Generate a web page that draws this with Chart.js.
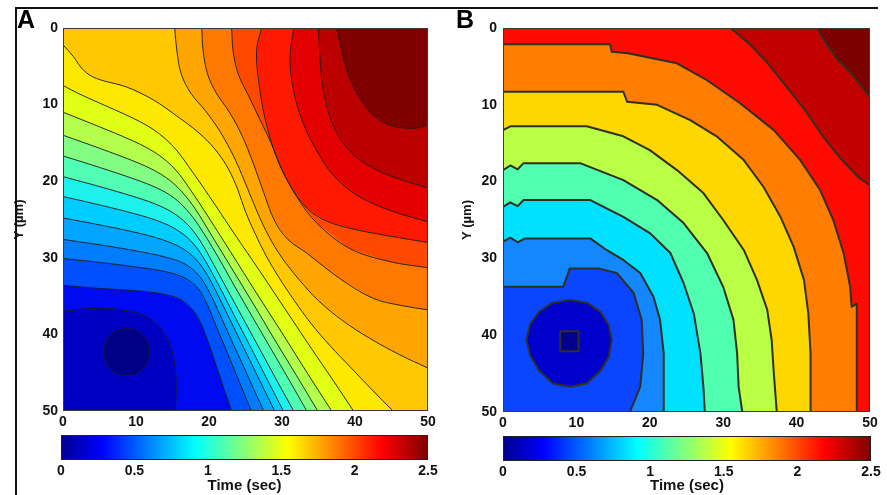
<!DOCTYPE html>
<html>
<head>
<meta charset="utf-8">
<script src="https://cdn.jsdelivr.net/npm/chart.js@4.4.1/dist/chart.umd.min.js"></script>
<style>
  html, body { margin: 0; padding: 0; background: #fff; }
  #fig { position: relative; width: 887px; height: 495px; overflow: hidden; font-family: "Liberation Sans", Arial, sans-serif; }
  canvas { position: absolute; }
  .rule { position: absolute; background: #111; }
  .tag { position: absolute; font-weight: bold; font-size: 25px; line-height: 25px; color: #000; }
</style>
</head>
<body>
<div id="fig">
  <div class="rule" style="left:16px;top:7px;width:862px;height:2px"></div>
  <div class="rule" style="left:15px;top:7px;width:2px;height:488px"></div>
  <canvas id="mapA" style="left:0;top:0" width="445" height="432"></canvas>
  <canvas id="mapB" style="left:445px;top:0" width="442" height="432"></canvas>
  <canvas id="barA" style="left:0;top:425px" width="445" height="70"></canvas>
  <canvas id="barB" style="left:445px;top:425px" width="442" height="70"></canvas>
  <div class="tag" style="left:17px;top:7px">A</div>
  <div class="tag" style="left:456px;top:7px">B</div>
</div>
<script>
// ---- Activation-time isochrones, panel A (x, y in µm; y grows downward) ----
const levelsA = [0.125, 0.25, 0.375, 0.5, 0.625, 0.75, 0.875, 1.0, 1.125, 1.25,
                 1.375, 1.5, 1.625, 1.75, 1.875, 2.0, 2.125, 2.25, 2.375, 2.5];
const isoA01 = [[8.7,39.2],[10.3,39.6],[11.4,40.7],[11.8,42.3],[11.4,43.9],[10.3,45.0],[8.7,45.4],[7.1,45.0],[6.0,43.9],[5.6,42.3],[6.0,40.7],[7.1,39.6],[8.7,39.2]];
const isoA02 = [[0,37],[4,36.6],[8,36.8],[11.3,37.6],[13.5,39.3],[14.8,41.8],[15.4,44.5],[15.5,47.5],[15.4,50]];
const isoA03 = [[0,33.6],[5,34.0],[10,34.3],[13.5,34.7],[16,35.4],[17.8,36.8],[19.1,39],[20.5,42.7],[21.8,46.4],[23.1,50]];
const isoA04 = [[0,30.1],[5,30.6],[10,31.2],[14,31.8],[16.6,32.6],[18.5,34],[19.8,36.2],[21.1,39.2],[22.6,42.6],[24.2,46.3],[25.8,50]];
const isoA05 = [[0,27.6],[5,28.3],[10,29.1],[14,29.9],[16.7,30.8],[18.6,32.3],[20,34.4],[21.5,37.4],[23,40.6],[24.7,44.1],[26.2,47.3],[27.5,50]];
const isoA06 = [[0,24.8],[5,25.7],[10,26.7],[13.8,27.7],[16.4,28.8],[18.3,30.3],[19.8,32.3],[21.5,35.4],[23.5,39.3],[25.5,43.2],[27.3,46.7],[29,50]];
const isoA07 = [[0,22],[5,23.1],[10,24.3],[13.6,25.4],[16,26.6],[17.9,28.2],[19.5,30.4],[21.5,33.9],[23.5,37.6],[25.5,41.3],[27.5,45],[29,47.8],[30.2,50]];
const isoA08 = [[0,19.4],[5,20.7],[10,22.1],[13.2,23.2],[15.5,24.4],[17.4,26],[19,28.1],[21,31.5],[23,35],[25,38.5],[27,42],[29,45.5],[31.6,50]];
const isoA09 = [[0,16.7],[5,18.2],[10,19.8],[12.9,20.9],[15.1,22.1],[16.9,23.7],[18.6,25.8],[21,29.5],[23.5,33.7],[26,37.8],[28.5,41.9],[31,46],[33.4,50]];
const isoA10 = [[0,14],[5,15.7],[10,17.5],[12.5,18.6],[14.5,19.8],[16.3,21.4],[18.1,23.6],[20.5,27.3],[23,31.2],[26,35.9],[29,40.7],[32,45.4],[34.9,50]];
const isoA11 = [[0,11],[5,12.9],[9.5,14.7],[11.8,15.8],[13.7,17],[15.5,18.6],[17.3,20.9],[20,24.8],[23,29.3],[26.5,34.6],[30,39.8],[33.5,45.1],[36.8,50]];
const isoA12 = [[0,7.5],[2,8.5],[5,9.8],[9,11.5],[11.8,12.9],[13.7,14.2],[15.5,15.9],[17.3,18.2],[20,21.9],[23.5,26.9],[27,31.8],[30.5,36.8],[34,41.8],[37,46],[39.8,50]];
const isoA13 = [[0,2.2],[1.4,3.7],[2.8,5.5],[4.6,6.6],[8.7,7.7],[12.4,9.4],[15.6,11.5],[18.5,13.6],[20.8,15.8],[22.6,18.3],[23.9,21],[25,24],[26.3,26.8],[27.8,29.7],[29.6,32.6],[31.7,35.6],[34,38.6],[36.6,41.5],[39.4,44.3],[42.3,47.2],[45.2,50]];
const isoA14 = [[15.3,0],[15.6,3],[16.2,6],[17.5,8.5],[19.5,10.8],[21.5,13.5],[23.5,17],[25.3,21],[26.6,24],[28.2,27.2],[30,30],[32.3,32.8],[35,35.6],[38.3,38.2],[42,40.5],[46,42.6],[50,44.4]];
const isoA15 = [[19,0],[19.2,3],[19.8,6],[21,8.5],[22.8,11],[24.5,14],[26,17.5],[27.5,21.5],[29,25.2],[30.8,27.6],[33.4,29.4],[37.9,32.7],[42.5,35.3],[46.2,36.2],[50,36.8]];
const isoA16 = [[23.1,0],[23.3,3],[24,6],[25.5,9],[27,12],[28.5,15],[30,18.5],[32,22],[34.8,25.5],[39.3,28.8],[44.8,30.5],[50,31.3]];
const isoA17 = [[27.2,0],[26.5,3.1],[27,8.3],[27.9,12.7],[29.3,17],[31.1,20.5],[33.4,23.5],[36.1,25.2],[40,26.3],[45,27.2],[50,28]];
const isoA18 = [[31.6,0],[31.1,3.9],[31.6,8.3],[33,12.7],[34.8,16.1],[37,19.2],[40.2,21.8],[43.9,23.5],[47,24.5],[50,25.3]];
const isoA19 = [[35,0],[35.2,3.9],[35.7,8.3],[37,12.7],[39.3,16.1],[42.5,18.3],[45.7,19.6],[50,20.9]];
const isoA20 = [[37.5,0],[38.4,3.9],[39.3,6.6],[40.7,9.2],[42.5,11.4],[44.8,12.7],[48,13.1],[50,12.7]];

// ---- Activation-time isochrones, panel B ----
const levelsB = [0.2, 0.4, 0.6, 0.8, 1.0, 1.2, 1.4, 1.6, 1.8, 2.0, 2.2];
const isoB01 = [[7.8,39.5],[10.3,39.5],[10.3,42.1],[7.8,42.1],[7.8,39.5]];
const isoB02 = [[9.1,35.4],[11.5,35.8],[13.3,37],[14.4,38.7],[14.8,40.6],[14.4,42.8],[13.3,44.6],[11.4,46.3],[9.1,46.7],[6.8,46.3],[4.9,44.6],[3.7,42.6],[3.2,40.6],[3.7,38.6],[4.9,37],[6.7,35.8],[9.1,35.4]];
const isoB03 = [[0,33.7],[8.2,33.7],[9.1,31.3],[13,31.3],[15.5,31.9],[17.8,34.5],[18.9,38],[19.1,42.4],[18.7,46.7],[17.3,50]];
const isoB04 = [[0,27.8],[1,27.3],[2,27.9],[3,27.4],[11.9,27.4],[14.1,28.9],[16.4,30.2],[18.7,31.9],[20.5,35],[21.4,38],[21.9,42.4],[21.9,50]];
const isoB05 = [[0,23.3],[1,22.7],[2,23.2],[2.8,22.4],[11.9,22.4],[16.4,24.6],[20,26.7],[22.8,29.3],[24.6,33.2],[26,37.2],[26.9,42.4],[27.3,46.7],[27.5,50]];
const isoB06 = [[0,18.5],[1,17.9],[2,18.4],[2.8,17.6],[10.5,17.6],[16.4,19.8],[21,22.4],[24.6,25.4],[27.8,29.3],[30,33.7],[31.4,38],[31.9,42.4],[32.1,46.7],[32.6,50]];
const isoB07 = [[0,13.3],[1,12.8],[11.4,12.8],[16.4,14.1],[20,15.9],[23.7,18.5],[27.3,21.5],[30,25],[32.8,28.9],[34.6,32.8],[36,36.7],[36.6,40.6],[36.9,45],[37.3,50]];
const isoB08 = [[0,8.3],[16.4,8.3],[16.9,9.6],[21,10],[25.5,12],[29.1,14.1],[32.8,17.2],[35.5,20.7],[37.8,24.6],[39.6,28.5],[41,32.8],[41.6,37.2],[41.9,42.4],[41.9,50]];
const isoB09 = [[0,2.1],[14.6,2.1],[14.8,3.1],[17,3.3],[23.7,4.6],[27.8,6.8],[32.3,9.8],[36.9,13.3],[40.5,17.2],[43.2,21.1],[45,25],[46.4,29.3],[47.3,33.7],[47.5,36.3],[48.2,35.9],[48.2,50]];
const isoB10 = [[31,0],[33.5,2],[36,4.5],[38.5,7.5],[41,10.5],[43.5,14],[46,17],[48.5,19.5],[50,20.5]];
const isoB11 = [[42.8,0],[44,2],[45.5,4],[47.5,6],[50,9]];

// Fill colours of the bands, earliest first (one more than there are isochrones)
const bandColorsA = ['#000087','#0000c3','#000af0','#0050ff','#007dff','#00a5ff','#00cdff','#1ef0eb',
                     '#50ffb4','#82ff82','#b4ff4b','#e1ff14','#ffe800','#ffc800','#ffa500','#ff7800',
                     '#ff4800','#ff1900','#e40000','#bc0000','#800000'];
const bandColorsB = ['#00008c','#0000cd','#0a46ff','#1487ff','#00e1ff','#50ffaf','#b9ff46',
                     '#ffd700','#ff7d00','#ff0a00','#c30000','#7d0000'];

const XMIN = 0, XMAX = 50, YMIN = 0, YMAX = 50;
const TIME_MIN = 0, TIME_MAX = 2.5;
const timeTicks = [0, 0.5, 1, 1.5, 2, 2.5];

const toPts = arr => arr.map(([x, y]) => ({x, y}));

// position of a border point along the frame, running clockwise from the top-left corner
function perimeterPos(p) {
  const e = 1e-6;
  if (p.y <= YMIN + e) return p.x - XMIN;
  if (p.x >= XMAX - e) return (XMAX - XMIN) + (p.y - YMIN);
  if (p.y >= YMAX - e) return 2 * (XMAX - XMIN) + (XMAX - p.x);
  return 3 * (XMAX - XMIN) + (YMAX - p.y);
}

// Close an open isochrone along the frame on the early (lower-left) side
function earlyRegion(pts) {
  const a = pts[0], b = pts[pts.length - 1];
  if (a.x === b.x && a.y === b.y) return pts;
  const W = XMAX - XMIN, P = 4 * W;
  const corners = [
    {x: XMIN, y: YMIN, p: 0}, {x: XMAX, y: YMIN, p: W},
    {x: XMAX, y: YMAX, p: 2 * W}, {x: XMIN, y: YMAX, p: 3 * W}
  ];
  const pS = perimeterPos(a), pE = perimeterPos(b);
  const cw = p => ((p - pE) % P + P) % P;
  const ccw = p => ((pE - p) % P + P) % P;
  const early = 3 * W;
  let walk;
  if (cw(early) < cw(pS)) {
    walk = corners.filter(c => cw(c.p) > 0 && cw(c.p) < cw(pS)).sort((u, v) => cw(u.p) - cw(v.p));
  } else {
    walk = corners.filter(c => ccw(c.p) > 0 && ccw(c.p) < ccw(pS)).sort((u, v) => ccw(u.p) - ccw(v.p));
  }
  return pts.concat(walk.map(c => ({x: c.x, y: c.y})), [a]);
}

const tickFont = {family: '"Liberation Sans", Arial, sans-serif', size: 14, weight: 'bold'};
const titleFont = {family: '"Liberation Sans", Arial, sans-serif', size: 13, weight: 'bold'};

const areaFill = {
  id: 'areaFill',
  beforeDatasetsDraw(chart, args, opts) {
    const a = chart.chartArea, ctx = chart.ctx;
    ctx.save(); ctx.fillStyle = opts.color; ctx.fillRect(a.left, a.top, a.right - a.left, a.bottom - a.top); ctx.restore();
  }
};
const boxFrame = {
  id: 'boxFrame',
  afterDatasetsDraw(chart, args, opts) {
    const a = chart.chartArea, ctx = chart.ctx;
    ctx.save(); ctx.strokeStyle = opts.color; ctx.lineWidth = 1;
    ctx.strokeRect(a.left + 0.5, a.top + 0.5, a.right - a.left - 1, a.bottom - a.top - 1); ctx.restore();
  }
};

function contourMap(id, levels, isos, colors, lineStyle, geom) {
  const datasets = [];
  isos.forEach((iso, i) => {
    datasets.push({
      label: 'below ' + levels[i] + ' s',
      data: earlyRegion(toPts(iso)),
      showLine: true, fill: 'shape', backgroundColor: colors[i],
      borderColor: colors[i], borderWidth: 0, pointRadius: 0, tension: 0,
      order: 1000 + i
    });
  });
  isos.forEach((iso, i) => {
    datasets.push({
      label: levels[i] + ' s',
      data: toPts(iso),
      showLine: true, fill: false, borderColor: lineStyle.color, borderWidth: lineStyle.width,
      pointRadius: 0, tension: lineStyle.tension, borderJoinStyle: 'round', order: 1
    });
  });
  return new Chart(document.getElementById(id), {
    type: 'scatter',
    data: {datasets},
    options: {
      responsive: false, animation: false, events: [],
      layout: {padding: geom.padding},
      plugins: {legend: {display: false}, tooltip: {enabled: false},
                areaFill: {color: colors[colors.length - 1]}, boxFrame: {color: '#3a3a3a'}},
      scales: {
        x: {type: 'linear', min: XMIN, max: XMAX,
            ticks: {stepSize: 10, font: tickFont, color: '#111', padding: 3, maxRotation: 0},
            grid: {display: false, drawTicks: false}, border: {display: false},
            afterFit: s => { s.height = geom.xh; }},
        y: {type: 'linear', min: YMIN, max: YMAX, reverse: true,
            ticks: {stepSize: 10, font: tickFont, color: '#111', padding: geom.ypad},
            grid: {display: false, drawTicks: false}, border: {display: false},
            title: {display: true, text: 'Y (µm)', font: titleFont, color: '#111', padding: 0},
            afterFit: s => { s.width = geom.yw; }}
      }
    },
    plugins: [areaFill, boxFrame]
  });
}

// MATLAB-style jet colour ramp for the colour bar
function jetGradient(ctx, area) {
  const g = ctx.createLinearGradient(area.left, 0, area.right, 0);
  g.addColorStop(0, 'rgb(0,0,143)');
  g.addColorStop(0.111, 'rgb(0,0,255)');
  g.addColorStop(0.365, 'rgb(0,255,255)');
  g.addColorStop(0.619, 'rgb(255,255,0)');
  g.addColorStop(0.873, 'rgb(255,0,0)');
  g.addColorStop(1, 'rgb(128,0,0)');
  return g;
}

function colorBar(id, geom) {
  return new Chart(document.getElementById(id), {
    type: 'bar',
    data: {labels: ['time'], datasets: [{
      data: [[TIME_MIN, TIME_MAX]],
      backgroundColor: c => c.chart.chartArea ? jetGradient(c.chart.ctx, c.chart.chartArea) : '#00f',
      borderWidth: 0, barPercentage: 1, categoryPercentage: 1
    }]},
    options: {
      indexAxis: 'y', responsive: false, animation: false, events: [],
      layout: {padding: geom.padding},
      plugins: {legend: {display: false}, tooltip: {enabled: false}, boxFrame: {color: '#222'}},
      scales: {
        x: {type: 'linear', min: TIME_MIN, max: TIME_MAX,
            afterBuildTicks: s => { s.ticks = timeTicks.map(v => ({value: v})); },
            ticks: {font: tickFont, color: '#111', padding: 3, maxRotation: 0, callback: v => String(v)},
            grid: {display: false, drawTicks: false}, border: {display: false},
            title: {display: true, text: 'Time (sec)', font: {family: tickFont.family, size: 15, weight: 'bold'}, color: '#111', padding: 0},
            afterFit: s => { s.height = geom.xh; }},
        y: {display: false}
      }
    },
    plugins: [boxFrame]
  });
}

contourMap('mapA', levelsA,
  [isoA01, isoA02, isoA03, isoA04, isoA05, isoA06, isoA07, isoA08, isoA09, isoA10,
   isoA11, isoA12, isoA13, isoA14, isoA15, isoA16, isoA17, isoA18, isoA19, isoA20],
  bandColorsA, {color: 'rgba(25,25,25,0.9)', width: 1, tension: 0.35},
  {padding: {left: 12, top: 28, right: 17, bottom: 0}, yw: 51, xh: 21, ypad: 5});

contourMap('mapB', levelsB,
  [isoB01, isoB02, isoB03, isoB04, isoB05, isoB06, isoB07, isoB08, isoB09, isoB10, isoB11],
  bandColorsB, {color: '#2f2f22', width: 2, tension: 0},
  {padding: {left: 15, top: 28, right: 17, bottom: 0}, yw: 43, xh: 20, ypad: 6});

colorBar('barA', {padding: {left: 61, right: 17, top: 10, bottom: 0}, xh: 35});
colorBar('barB', {padding: {left: 58, right: 16, top: 11, bottom: 0}, xh: 34});
</script>
</body>
</html>
